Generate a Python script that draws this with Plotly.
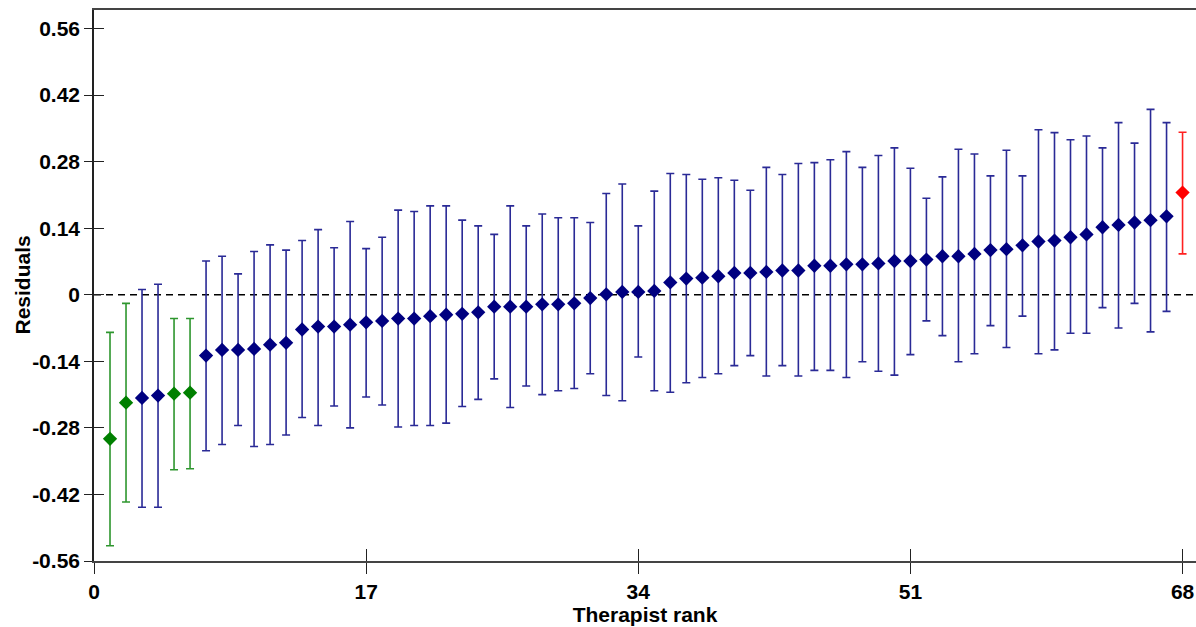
import plotly.graph_objects as go

rank = list(range(1, 69))
resid = [-0.303, -0.227, -0.217, -0.212, -0.208, -0.206, -0.128, -0.116, -0.116, -0.114,
         -0.105, -0.101, -0.073, -0.067, -0.067, -0.063, -0.058, -0.055, -0.050, -0.050,
         -0.045, -0.042, -0.040, -0.037, -0.025, -0.025, -0.025, -0.020, -0.020, -0.018,
         -0.007, 0.001, 0.006, 0.006, 0.008, 0.026, 0.034, 0.036, 0.039, 0.046,
         0.046, 0.048, 0.051, 0.051, 0.061, 0.061, 0.064, 0.064, 0.066, 0.071,
         0.071, 0.074, 0.081, 0.081, 0.086, 0.094, 0.096, 0.104, 0.112, 0.114,
         0.121, 0.127, 0.142, 0.147, 0.152, 0.157, 0.165, 0.215]
upper = [-0.079, -0.018, 0.011, 0.022, -0.050, -0.050, 0.071, 0.081, 0.044, 0.091,
         0.105, 0.094, 0.114, 0.137, 0.099, 0.154, 0.097, 0.121, 0.178, 0.175,
         0.187, 0.187, 0.157, 0.145, 0.127, 0.187, 0.145, 0.170, 0.162, 0.162,
         0.152, 0.213, 0.233, 0.145, 0.218, 0.255, 0.253, 0.243, 0.246, 0.241,
         0.220, 0.268, 0.253, 0.276, 0.278, 0.284, 0.301, 0.268, 0.293, 0.309,
         0.266, 0.203, 0.248, 0.306, 0.296, 0.250, 0.304, 0.250, 0.347, 0.341,
         0.326, 0.334, 0.309, 0.362, 0.319, 0.390, 0.362, 0.342]
lower = [-0.528, -0.436, -0.447, -0.447, -0.368, -0.366, -0.328, -0.315, -0.275, -0.319,
         -0.315, -0.295, -0.258, -0.275, -0.234, -0.280, -0.215, -0.232, -0.278, -0.275,
         -0.275, -0.270, -0.235, -0.220, -0.177, -0.237, -0.192, -0.210, -0.202, -0.197,
         -0.166, -0.212, -0.223, -0.131, -0.202, -0.205, -0.185, -0.174, -0.166, -0.149,
         -0.128, -0.171, -0.149, -0.171, -0.159, -0.159, -0.174, -0.141, -0.161, -0.169,
         -0.126, -0.055, -0.086, -0.141, -0.124, -0.065, -0.111, -0.045, -0.124, -0.116,
         -0.081, -0.081, -0.027, -0.070, -0.018, -0.078, -0.035, 0.086]
green_ranks = [1, 2, 5, 6]
red_ranks = [68]

y_ticks = [-0.56, -0.42, -0.28, -0.14, 0, 0.14, 0.28, 0.42, 0.56]
y_tick_text = ["-0.56", "-0.42", "-0.28", "-0.14", "0", "0.14", "0.28", "0.42", "0.56"]
x_ticks = [0, 17, 34, 51, 68]

groups = [
    ("green", [r for r in rank if r in green_ranks], "#008000", "#2e962e"),
    ("navy", [r for r in rank if r not in green_ranks and r not in red_ranks], "#000080", "#2a2a96"),
    ("red", [r for r in rank if r in red_ranks], "#ff0000", "#ff2020"),
]

fig = go.Figure()
for name, rs, mcol, ecol in groups:
    idx = [r - 1 for r in rs]
    fig.add_trace(go.Scatter(
        x=[rank[i] for i in idx],
        y=[resid[i] for i in idx],
        mode="markers",
        marker=dict(symbol="diamond", size=11, color=mcol, line=dict(width=0)),
        error_y=dict(type="data", symmetric=False,
                     array=[upper[i] - resid[i] for i in idx],
                     arrayminus=[resid[i] - lower[i] for i in idx],
                     color=ecol, thickness=1.6, width=4),
        showlegend=False, name=name,
    ))

# empty trace to hold the overlay axes (inner tick marks)
fig.add_trace(go.Scatter(x=[], y=[], xaxis="x2", yaxis="y2", showlegend=False, hoverinfo="skip"))

xr = [0, 68.84]
yr = [-0.56, 0.599]
font_ax = dict(family="Liberation Sans, Arial", size=21, color="#000")

fig.update_layout(
    width=1196, height=627,
    margin=dict(l=94, r=0, t=10, b=66),
    paper_bgcolor="white", plot_bgcolor="white",
    xaxis=dict(range=xr, tickvals=x_ticks, ticktext=["<b>%d</b>" % v for v in x_ticks],
               ticks="outside", ticklen=11, tickwidth=1.3,
               tickcolor="#222", showline=True, linecolor="#444", linewidth=2, mirror=True,
               showgrid=False, zeroline=False, tickfont=font_ax,
               title=dict(text="<b>Therapist rank</b>", font=dict(family="Liberation Sans, Arial", size=21, color="#000"), standoff=0)),
    yaxis=dict(range=yr, tickvals=y_ticks, ticktext=["<b>%s</b>" % t for t in y_tick_text],
               ticks="outside", ticklen=8, tickwidth=1.3, tickcolor="#222",
               showline=True, linecolor="#222", linewidth=1.6, showgrid=False, zeroline=False,
               tickfont=font_ax),
    xaxis2=dict(range=xr, tickvals=x_ticks, ticks="inside", ticklen=12, tickwidth=1.3,
                tickcolor="#222", overlaying="x", anchor="y2", side="bottom",
                showticklabels=False, showgrid=False, zeroline=False, showline=False),
    yaxis2=dict(range=yr, tickvals=y_ticks, ticks="inside", ticklen=10, tickwidth=1.3,
                tickcolor="#222", overlaying="y", anchor="x2", side="left",
                showticklabels=False, showgrid=False, zeroline=False, showline=False),
    shapes=[dict(type="line", xref="paper", yref="y", x0=0, x1=1, y0=0, y1=0,
                 line=dict(color="#000", width=1.5, dash="7px,5px"), layer="below")],
    annotations=[dict(text="<b>Residuals</b>", xref="paper", yref="paper", x=0, y=0.5,
                      xanchor="center", yanchor="middle", xshift=-72, textangle=-90,
                      showarrow=False, font=dict(family="Liberation Sans, Arial", size=21, color="#000"))],
)

fig.write_html("out.html")
